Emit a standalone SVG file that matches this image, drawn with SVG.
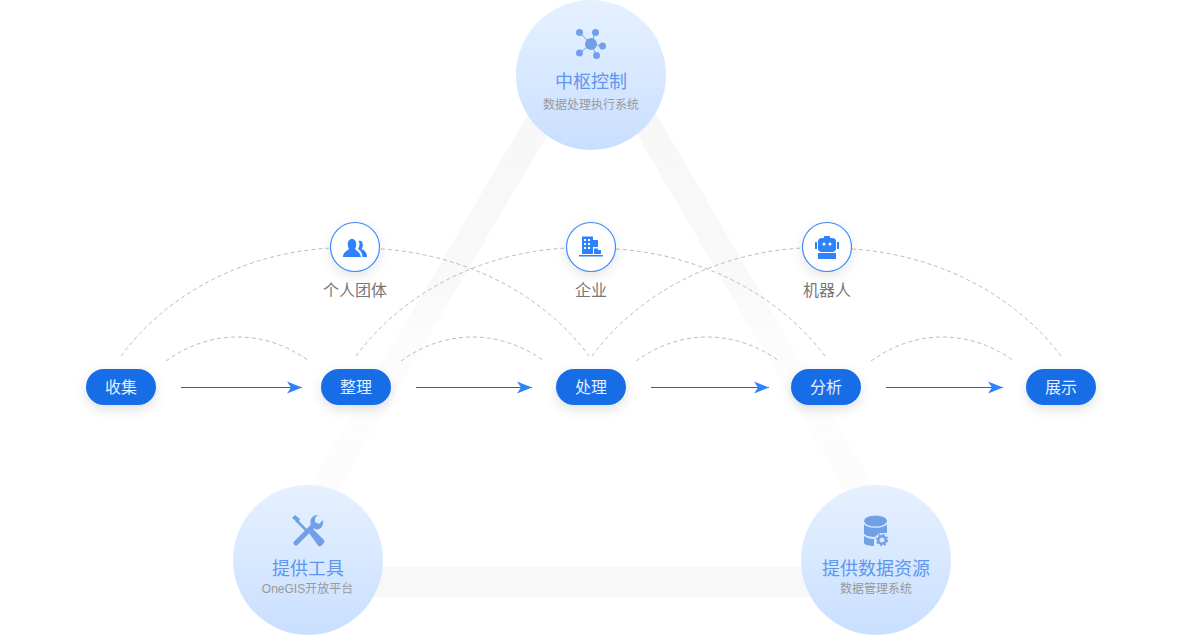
<svg xmlns="http://www.w3.org/2000/svg" width="1200" height="635" viewBox="0 0 1200 635">
<style>
.t{font-family:"Liberation Sans","Noto Sans CJK SC",sans-serif;text-anchor:middle}
.title{font-size:18px;fill:#5e96ee}
.sub{font-size:12px;fill:#999}
.lab{font-size:16px;fill:#777}
.pl{font-size:16px;fill:#e6efff}
.arc{fill:none;stroke:#bdbdbd;stroke-width:1;stroke-dasharray:4 3}
.ar{stroke:#1565d8;stroke-width:1;fill:none;marker-end:url(#ah)}
.ic{fill:#2f83fa}
.mi{fill:#70a1e8}
.ring{fill:#fff;stroke:#3c8bfb;stroke-width:1.200}
</style>
<defs>
<linearGradient id="g" x1="0" y1="0" x2="0" y2="1"><stop offset="0" stop-color="#e6f1ff"/><stop offset="1" stop-color="#c9dfff"/></linearGradient>
<linearGradient id="tl" gradientUnits="userSpaceOnUse" x1="0" y1="100" x2="0" y2="520"><stop offset="0" stop-color="#f7f7f7"/><stop offset=".45" stop-color="#f9f9f9"/><stop offset=".58" stop-color="#fcfcfc"/><stop offset=".8" stop-color="#fdfdfd"/><stop offset="1" stop-color="#fbfbfb"/></linearGradient>
<filter id="sh" x="-40%" y="-60%" width="180%" height="240%"><feDropShadow dx="0" dy="4" stdDeviation="6" flood-color="#000" flood-opacity=".12"/></filter>
<filter id="sr" x="-50%" y="-50%" width="200%" height="200%"><feDropShadow dx="0" dy="4" stdDeviation="6" flood-color="#000" flood-opacity=".1"/></filter>
<marker id="ah" markerUnits="userSpaceOnUse" markerWidth="16" markerHeight="14" refX="15" refY="7" orient="auto"><path d="M0 1L15 7L0 13L4 7Z" fill="#2f83fa"/></marker>
</defs>
<g id="triangle" fill="none" stroke-width="27">
<path d="M567 75L281 560" stroke="url(#tl)"/><path d="M618 75L901 560" stroke="url(#tl)"/><path d="M308 582H876" stroke="#f8f8f8" stroke-width="30"/>
</g>
<g id="connectors">
<path class="arc" d="M121 356C170 290 250 252 332 248"/>
<path class="arc" d="M381 249C460 254 540 290 589 356"/>
<path class="arc" d="M356 356C405 290 485 252 567 248"/>
<path class="arc" d="M616 249C695 254 775 290 825 356"/>
<path class="arc" d="M592 356C641 290 721 252 803 248"/>
<path class="arc" d="M852 249C931 254 1011 290 1061 356"/>
<path class="arc" d="M166 361C210 329 265 329 309 361"/>
<path class="arc" d="M401 361C445 329 500 329 544 361"/>
<path class="arc" d="M636 361C680 329 735 329 779 361"/>
<path class="arc" d="M871 361C915 329 970 329 1014 361"/>
<path class="ar" d="M181 387.500H302"/>
<path class="ar" d="M416 387.500H532"/>
<path class="ar" d="M651 387.500H769"/>
<path class="ar" d="M886 387.500H1003"/>
</g>
<g id="n-control">
<circle cx="591" cy="75" r="75" fill="url(#g)"/>
<path d="M579.500 32.500L591 44L595.500 32.500M602.500 46L591 44L596.500 55.500M579.500 53L591 44" fill="none" stroke="#70a1e8" stroke-width="1"/>
<g class="mi"><circle cx="591" cy="44" r="6"/><circle cx="579.500" cy="32.500" r="3.500"/><circle cx="595.500" cy="32.500" r="3.500"/><circle cx="602.500" cy="46" r="3.500"/><circle cx="579.500" cy="53" r="3.500"/><circle cx="596.500" cy="55.500" r="3.500"/></g>
<text class="t title" x="591" y="87.500">中枢控制</text>
<text class="t sub" x="591" y="108.500">数据处理执行系统</text>
</g>
<g id="n-tools">
<circle cx="308" cy="560" r="75" fill="url(#g)"/>
<path d="M296 520L308 532" stroke="#70a1e8" stroke-width="2.500" fill="none"/>
<path class="mi" d="M292 518L295 515L300 519L298 523ZM309 533L313 529L323 539C325 541 325 542 323 544L321 546C319 547 318 546 317 544Z"/>
<path d="M296 543L313 526" stroke="#70a1e8" stroke-width="5" stroke-linecap="round" fill="none"/>
<path class="mi" d="M318 515C312 515 309 520 311 525L315 529C319 531 324 527 323 520L319 524L315 522L315 518Z"/>
<text class="t title" x="308" y="575">提供工具</text>
<text class="t sub" x="307.500" y="593">OneGIS开放平台</text>
</g>
<g id="n-data">
<circle cx="876" cy="560" r="75" fill="url(#g)"/>
<ellipse class="mi" cx="875.500" cy="521" rx="11.500" ry="5.500"/>
<path class="mi" d="M864 524C867 529 884 529 887 524V533C881 533 877 535 875 537C870 537 866 536 864 534ZM864 536C867 538 870 539 874 539V546C870 546 864 545 864 543Z"/>
<circle cx="882" cy="540" r="7" fill="#dbe9ff"/>
<circle cx="882" cy="540" r="3.800" fill="none" stroke="#70a1e8" stroke-width="2.600"/>
<circle cx="882" cy="540" r="5.500" fill="none" stroke="#70a1e8" stroke-width="1.500" stroke-dasharray="2 2.300"/>
<text class="t title" x="876" y="575">提供数据资源</text>
<text class="t sub" x="876" y="593">数据管理系统</text>
</g>
<g id="n-people">
<circle class="ring" cx="355" cy="247" r="24.500" filter="url(#sr)"/>
<path class="ic" d="M343 257C343 252 347 251 349 249C347 246 347 239 352 239C357 239 357 246 355 249C357 251 360 252 361 257Z"/>
<path class="ic" d="M358.500 241C363 239 364 246 361.500 249C364 250 367 252 367 257H362.500C362 252 360 250 358 249C360 246 360 243 358.500 241Z"/>
<text class="t lab" x="355" y="296">个人团体</text>
</g>
<g id="n-enterprise">
<circle class="ring" cx="591" cy="247" r="24.500" filter="url(#sr)"/>
<path class="ic" d="M582 236.500H593V240H598V247H593V254H582ZM579 255H603V256.500H579ZM594 248.500H598V250H601V254H594Z"/>
<g fill="#fff"><rect x="584" y="239" width="2" height="2"/><rect x="588" y="239" width="2" height="2"/><rect x="584" y="243" width="2" height="2"/><rect x="588" y="243" width="2" height="2"/><rect x="584" y="247" width="2" height="2"/><rect x="588" y="247" width="2" height="2"/></g>
<text class="t lab" x="591" y="296">企业</text>
</g>
<g id="n-robot">
<circle class="ring" cx="827" cy="247" r="24.500" filter="url(#sr)"/>
<path class="ic" d="M824 238V236H830V238H832C834 238 836 239 836 241V249C836 251 834 252 832 252H822C820 252 818 251 818 249V241C818 239 820 238 822 238ZM815 242H817V249H815ZM837 242H839V249H837ZM818 253H836V259H818Z"/>
<circle cx="824" cy="244" r="1.500" fill="#fff"/><circle cx="830" cy="244" r="1.500" fill="#fff"/>
<text class="t lab" x="827" y="296">机器人</text>
</g>
<g id="p1"><rect x="86" y="369" width="70" height="36" rx="18" fill="#176de6" filter="url(#sh)"/><text class="t pl" x="121" y="393">收集</text></g>
<g id="p2"><rect x="321" y="369" width="70" height="36" rx="18" fill="#176de6" filter="url(#sh)"/><text class="t pl" x="356" y="393">整理</text></g>
<g id="p3"><rect x="556" y="369" width="70" height="36" rx="18" fill="#176de6" filter="url(#sh)"/><text class="t pl" x="591" y="393">处理</text></g>
<g id="p4"><rect x="791" y="369" width="70" height="36" rx="18" fill="#176de6" filter="url(#sh)"/><text class="t pl" x="826" y="393">分析</text></g>
<g id="p5"><rect x="1026" y="369" width="70" height="36" rx="18" fill="#176de6" filter="url(#sh)"/><text class="t pl" x="1061" y="393">展示</text></g>
</svg>
